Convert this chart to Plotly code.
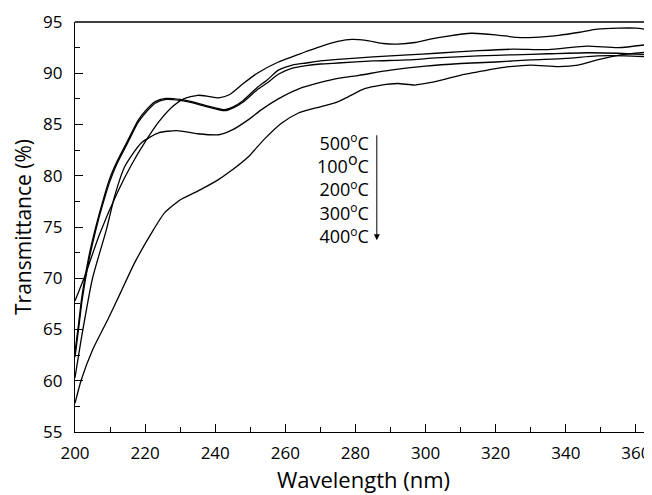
import plotly.graph_objects as go

# ---- data ----
wl_500 = [200, 203, 207, 212, 216, 220, 224, 228, 231, 235, 238, 241, 244, 248, 252, 258, 265, 270, 275, 279,
          283, 288, 292, 297, 301, 306, 313, 320, 326, 331, 338, 344, 349, 355, 360, 364.5]
t_500 = [67.8, 70.4, 74.3, 78.3, 81.0, 83.3, 85.3, 86.8, 87.5, 87.85, 87.75, 87.6, 87.9, 89.0, 90.0, 91.1, 92.0,
         92.6, 93.1, 93.3, 93.2, 92.9, 92.85, 93.0, 93.3, 93.6, 93.9, 93.75, 93.5, 93.5, 93.7, 94.0, 94.3, 94.4,
         94.4, 94.2]

wl_100 = [200, 201, 202, 204, 206, 208, 210, 212, 215, 218, 220, 223, 226, 230, 233, 238, 242.7, 245, 248, 252,
          255, 258, 262, 266, 270, 275, 285, 295, 303, 315, 325, 335, 346, 355, 364.5]
t_100 = [62.8, 65.5, 68.3, 72.2, 75.1, 77.6, 79.8, 81.4, 83.4, 85.4, 86.3, 87.25, 87.55, 87.45, 87.25, 86.8,
         86.45, 86.7, 87.35, 88.6, 89.4, 90.3, 90.8, 91.0, 91.2, 91.35, 91.6, 91.8, 91.95, 92.2, 92.35, 92.3,
         92.65, 92.5, 92.85]

wl_200 = [200, 201, 202, 204, 206, 208, 210, 212, 215, 218, 220, 223, 226, 230, 233, 238, 242.7, 245, 248, 252,
          255, 258, 262, 266, 270, 275, 285, 295, 303, 315, 325, 335, 346, 355, 364.5]
t_200 = [62.3, 65.0, 67.8, 71.8, 74.8, 77.3, 79.5, 81.2, 83.2, 85.2, 86.1, 87.1, 87.45, 87.35, 87.15, 86.7,
         86.35, 86.6, 87.2, 88.4, 89.1, 89.9, 90.5, 90.75, 90.9, 91.0, 91.2, 91.3, 91.5, 91.7, 91.8, 91.9,
         92.0, 91.95, 91.8]

wl_300 = [200, 202, 205, 209, 211.3, 214.2, 218.9, 224, 229, 235, 241, 245, 250, 253, 258, 264, 270, 275, 281,
          290, 300, 310, 320, 330, 340, 349, 357, 364.5]
t_300 = [60.3, 64.5, 70.0, 74.8, 78.0, 80.9, 83.2, 84.2, 84.4, 84.1, 84.0, 84.5, 85.6, 86.4, 87.5, 88.5, 89.1,
         89.5, 89.8, 90.3, 90.7, 90.95, 91.1, 91.3, 91.45, 91.7, 91.7, 91.6]

wl_400 = [200, 201.8, 205, 209.4, 213, 217, 221.8, 225.6, 230.3, 235, 240.8, 245, 249.3, 254.1, 258.8, 263.6,
          268.4, 274.1, 277.9, 282.6, 287.4, 292, 297, 301.6, 306.4, 311, 316, 320, 324, 330, 338, 343.5, 349,
          355.7, 364.5]
t_400 = [57.8, 60.1, 63.0, 66.0, 68.6, 71.5, 74.4, 76.4, 77.7, 78.5, 79.6, 80.6, 81.8, 83.6, 85.1, 86.1, 86.6,
         87.1, 87.7, 88.5, 88.85, 89.0, 88.85, 89.1, 89.5, 89.9, 90.2, 90.45, 90.65, 90.8, 90.65, 90.8, 91.3,
         91.8, 92.1]

labels = ["500", "100", "200", "300", "400"]
x_ticks = [200, 220, 240, 260, 280, 300, 320, 340, 360]
y_ticks = [55, 60, 65, 70, 75, 80, 85, 90, 95]

series = [(wl_500, t_500), (wl_100, t_100), (wl_200, t_200), (wl_300, t_300), (wl_400, t_400)]

FONT = "Open Sans"

fig = go.Figure()
for (wl, t), lab in zip(series, labels):
    fig.add_trace(go.Scatter(x=wl, y=t, mode="lines", name=lab + " °C",
                             line=dict(color="black", width=1.3, shape="spline", smoothing=0.6),
                             showlegend=False, hoverinfo="skip"))

# label stack (one text block) with arrow
sup_size = [12, 16, 12, 12, 12]
rows = [lab + "<sup><span style='font-size:%dpx'>o</span></sup>C" % ss for lab, ss in zip(labels, sup_size)]
fig.add_annotation(x=284.3, y=78.8, xref="x", yref="y", xanchor="right", yanchor="middle", align="right",
                   text="<br>".join(rows), showarrow=False,
                   font=dict(family=FONT, size=18, color="black"))
fig.add_annotation(x=286.1, y=73.7, ax=286.1, ay=84.1, xref="x", yref="y", axref="x", ayref="y",
                   text="", showarrow=True, arrowhead=2, arrowsize=1.2, arrowwidth=1, arrowcolor="black")

# top frame line (no ticks on top)
fig.add_shape(type="line", xref="paper", yref="paper", x0=0, x1=1, y0=1, y1=1,
              line=dict(color="black", width=1.3))

axis_common = dict(showline=True, linecolor="black", linewidth=1.3, mirror=False, ticks="inside",
                   ticklen=8, tickwidth=1.2, tickcolor="black", showgrid=False, zeroline=False,
                   tickfont=dict(family=FONT, size=17, color="black"))

fig.update_xaxes(range=[200, 364.6], tickvals=x_ticks, ticklabelstandoff=5, **axis_common,
                 minor=dict(ticks="inside", ticklen=5, tickwidth=1.2, tickcolor="black", dtick=10, showgrid=False),
                 title=dict(text="Wavelength (nm)", font=dict(family=FONT, size=22, color="black"), standoff=10))
fig.update_yaxes(range=[55, 95], tickvals=y_ticks, ticklabelstandoff=8, **axis_common,
                 minor=dict(ticks="inside", ticklen=5, tickwidth=1.2, tickcolor="black", dtick=2.5, showgrid=False),
                 title=dict(text="Transmittance (%)", font=dict(family=FONT, size=21, color="black"), standoff=5))

# page body has an 8px default margin; shift the figure accordingly
fig.update_layout(width=644, height=487, margin=dict(l=67, r=0, t=14, b=63),
                  plot_bgcolor="white", paper_bgcolor="white",
                  font=dict(family=FONT, color="black"))

fig.write_html("out.html")
